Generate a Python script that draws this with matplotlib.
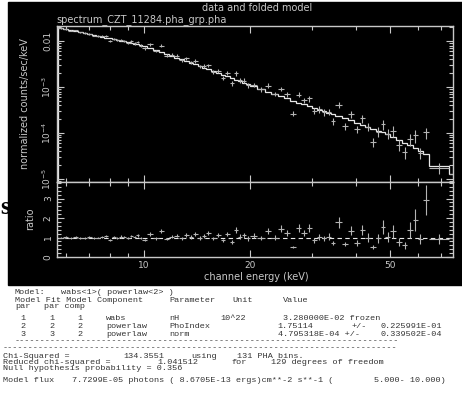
import re
import matplotlib
matplotlib.use('Agg')
import matplotlib.pyplot as plt
from matplotlib.patches import Rectangle
import numpy as np

# energy bin edges (keV)
edges = [5.7, 5.9, 6.1, 6.3, 6.5, 6.7, 6.9, 7.1, 7.3, 7.5, 7.7, 7.9, 8.1, 8.3, 8.5,
         8.7, 8.9, 9.1, 9.3, 9.5, 9.7, 9.9, 10.2, 10.6, 11.0, 11.4, 11.8, 12.2, 12.6,
         13.0, 13.4, 13.8, 14.2, 14.6, 15.0, 15.5, 16.0, 16.5, 17.0, 17.5, 18.0, 18.5,
         19.0, 19.5, 20.0, 21, 22, 23, 24, 25, 26, 27, 28, 29, 30, 31, 32, 33, 34, 35,
         36.5, 38, 39.5, 41, 42.5, 44, 45.5, 47, 48.5, 50, 52, 54, 56, 58, 60, 62,
         64.5, 73.5, 80]

# folded model, normalized counts/sec/keV
model = [0.01937, 0.01832, 0.01738, 0.01648, 0.01570, 0.01493, 0.01426, 0.01361,
         0.01303, 0.01247, 0.01197, 0.01148, 0.01102, 0.01059, 0.01021, 0.00982,
         0.00948, 0.00914, 0.00883, 0.00853, 0.00824, 0.00787,
         0.00715, 0.00643, 0.00581, 0.00526, 0.00479, 0.00437, 0.00400, 0.00367,
         0.00337, 0.00311, 0.00288, 0.00265,
         0.00243, 0.00221, 0.00202, 0.00185, 0.00170, 0.00156, 0.00144, 0.00133,
         0.00123, 0.00114,
         1.03e-3, 9.06e-4, 7.98e-4, 7.08e-4, 6.31e-4, 5.66e-4, 5.09e-4, 4.59e-4,
         4.18e-4, 3.82e-4, 3.51e-4, 3.22e-4, 2.97e-4, 2.75e-4, 2.55e-4,
         2.32e-4, 2.08e-4, 1.88e-4, 1.69e-4, 1.52e-4, 1.37e-4, 1.25e-4, 1.13e-4,
         1.03e-4, 9.46e-5,
         8.38e-5, 7.18e-5, 6.18e-5, 5.36e-5, 4.67e-5,
         4.09e-5, 3.53e-5, 1.92e-5, 1.29e-5]

# data / model
ratio = [1.00, 1.02, 0.97, 1.04, 0.98, 0.99, 1.01, 0.97, 1.00, 1.03,
         1.10, 0.88, 1.02, 0.98, 1.05, 1.03, 0.96, 1.08, 1.02, 1.12, 0.97, 0.88,
         1.18, 0.95, 1.35, 0.92, 1.05, 1.10, 0.95, 1.15, 1.02, 1.20, 0.98, 1.08,
         1.22, 0.95, 1.12, 0.85, 1.18, 0.77, 1.38, 1.05, 1.12, 0.95,
         1.10, 0.98, 1.35, 1.00, 1.45, 1.25, 0.52, 1.50, 1.23, 1.48, 0.87, 1.02,
         0.95, 1.05, 0.72,
         1.78, 0.68, 1.36, 0.72, 1.38, 1.00, 0.52, 0.95, 1.52, 1.02,
         1.33, 0.77, 0.61, 1.38, 1.90,
         0.92, 2.92, 0.91, 1.00]

# relative 1-sigma errors
frac_err = [0.035, 0.035, 0.04, 0.04, 0.04, 0.045, 0.045, 0.045, 0.05, 0.05,
            0.05, 0.05, 0.055, 0.055, 0.055, 0.06, 0.06, 0.06, 0.065, 0.065, 0.07, 0.06,
            0.07, 0.07, 0.075, 0.075, 0.08, 0.08, 0.085, 0.085, 0.09, 0.09, 0.095, 0.095,
            0.09, 0.095, 0.1, 0.1, 0.105, 0.11, 0.11, 0.115, 0.12, 0.12,
            0.1, 0.105, 0.11, 0.115, 0.12, 0.125, 0.13, 0.135, 0.14, 0.145, 0.15, 0.155,
            0.16, 0.165, 0.17,
            0.16, 0.17, 0.18, 0.19, 0.2, 0.21, 0.22, 0.23, 0.24, 0.25,
            0.25, 0.27, 0.29, 0.3, 0.3,
            0.28, 0.27, 0.28, 0.5]

x_ticks = [10, 20, 50]
x_ticklabels = ['10', '20', '50']
y_ticks = [1e-5, 1e-4, 1e-3, 1e-2]
y_ticklabels = ['$10^{-5}$', '$10^{-4}$', '$10^{-3}$', '0.01']
r_ticks = [0, 1, 2, 3]
r_ticklabels = ['0', '1', '2', '3']

# fit summary printed under the plot (x of first column, y of line, text)
fit_lines = [
    (15, 293, "Model:  wabs<1>( powerlaw<2> )"),
    (15, 300, "Model Fit Model Component  Parameter  Unit     Value"),
    (15, 307, "par  par comp"),
    (15, 318, " 1    1    1    wabs       nH       10^22      3.280000E-02 frozen"),
    (15, 327, " 2    2    2    powerlaw   PhoIndex           1.75114      +/-  0.225991E-01"),
    (15, 334, " 3    3    2    powerlaw   norm               4.795318E-04 +/-  0.339502E-04"),
    (15, 341, "-" * 75),
    (3, 348, "-" * 77),
    (3, 356, "Chi-Squared =        134.3551    using   131 PHA bins."),
    (3, 362, "Reduced chi-squared =      1.041512     for    129 degrees of freedom"),
    (3, 369, "Null hypothesis probability = 0.356"),
    (3, 380, "Model flux  7.7299E-05 photons ( 8.6705E-13 ergs)cm**-2 s**-1 (  5.000- 10.000)"),
]

W, H = 462, 413
fg = '#c8c8c8'
dcol = '#b4b4b4'
mcol = '#e8e8e8'
char_w = 5.71  # px per column of the printed fit summary


def fx(x):
    return x / W


def fy(y):
    return 1 - y / H


fig = plt.figure(figsize=(W / 100, H / 100), dpi=100)
fig.patch.set_facecolor('white')
fig.patches.append(Rectangle((fx(8), fy(285)), (W - 8) / W, 283 / H,
                             transform=fig.transFigure, color='black', zorder=-5))

ax1 = fig.add_axes([fx(57), fy(182), (453 - 57) / W, (182 - 26) / H])
ax2 = fig.add_axes([fx(57), fy(257), (453 - 57) / W, (257 - 182) / H])

e = np.array(edges)
lo, hi = e[:-1], e[1:]
cen = np.sqrt(lo * hi)
xerr = [cen - lo, hi - cen]
mod = np.array(model)
rat = np.array(ratio)
data = mod * rat
derr = data * np.array(frac_err)

ax1.errorbar(cen, data, xerr=xerr, yerr=derr, fmt='none', ecolor=dcol, elinewidth=0.8)
ax1.stairs(mod, e, color=mcol, lw=0.9)

ax2.axhline(1, ls=(0, (4, 3)), color=mcol, lw=0.8)
ax2.errorbar(cen, rat, xerr=xerr, yerr=rat * np.array(frac_err), fmt='none',
             ecolor=dcol, elinewidth=0.8)

for ax in (ax1, ax2):
    ax.set_facecolor('black')
    for s in ax.spines.values():
        s.set_color(fg)
        s.set_linewidth(1.0)
    ax.set_xscale('log')
    ax.set_xlim(5.66, 75.5)
    ax.set_xticks(x_ticks)
    ax.set_xticks([6, 7, 8, 9, 30, 40, 60, 70], minor=True)
    ax.tick_params(which='both', direction='in', top=True, right=True,
                   colors=fg, labelsize=6.5, pad=3)
    ax.tick_params(which='major', length=5, width=0.8)
    ax.tick_params(which='minor', length=3, width=0.8)

ax1.set_yscale('log')
ax1.set_ylim(8.6e-6, 0.0213)
ax1.set_yticks(y_ticks)
ax1.set_yticklabels(y_ticklabels)
ax1.tick_params(axis='x', labelbottom=False)

ax2.set_ylim(0, 3.85)
ax2.set_yticks(r_ticks)
ax2.set_yticklabels(r_ticklabels)
ax2.set_yticks(np.arange(0, 3.85, 0.2), minor=True)
ax2.set_xticklabels(x_ticklabels)
ax2.xaxis.set_minor_formatter(plt.NullFormatter())

for ax in (ax1, ax2):
    for lbl in ax.get_yticklabels():
        lbl.set_rotation(90)
        lbl.set_va('center')

fig.text(fx(257), fy(8), 'data and folded model', color=fg, fontsize=7,
         ha='center', va='center')
fig.text(fx(56), fy(20), 'spectrum_CZT_11284.pha_grp.pha', color=fg, fontsize=7,
         ha='left', va='center')
fig.text(fx(25), fy(104), 'normalized counts/sec/keV', color=fg, fontsize=7,
         rotation=90, ha='center', va='center')
fig.text(fx(30), fy(219), 'ratio', color=fg, fontsize=7,
         rotation=90, ha='center', va='center')
fig.text(fx(256), fy(277), 'channel energy (keV)', color=fg, fontsize=7,
         ha='center', va='center')

fig.text(fx(0), fy(207), 's', color='black', fontsize=18, fontweight='bold',
         family='Liberation Serif', ha='left', va='center')

# console text is wider than tall: keep phrases whole, put each at its column
for x0, y, line in fit_lines:
    for m in re.finditer(r'\S+(?: \S+)*', line):
        fig.text(fx(x0 + m.start() * char_w), fy(y), m.group(),
                 family='Liberation Mono', fontsize=6.1, color='#333333',
                 ha='left', va='center')

fig.savefig('out.png', dpi=100, facecolor='white')
